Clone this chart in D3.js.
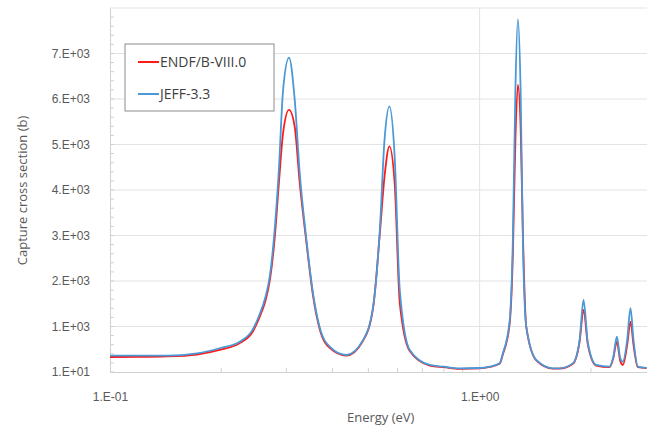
<!DOCTYPE html>
<html>
<head>
<meta charset="utf-8">
<script src="https://cdn.jsdelivr.net/npm/d3@7"></script>
<style>
  body { margin: 0; background: #fff; }
  svg { display: block; font-family: "Open Sans", "Noto Sans", sans-serif; }
</style>
</head>
<body>
<div id="chart"></div>
<script>
// energies (eV), shared by both curves
const energy = [0.100, 0.120, 0.143, 0.172, 0.198, 0.225, 0.243, 0.254, 0.263, 0.271, 0.279,
  0.286, 0.294, 0.305, 0.316, 0.326, 0.340, 0.354, 0.369, 0.393, 0.436,
  0.484, 0.515, 0.537, 0.553, 0.570, 0.589, 0.608, 0.647, 0.733, 0.800,
  0.883, 1.000, 1.064, 1.132, 1.156, 1.205, 1.230, 1.249, 1.269, 1.291,
  1.309, 1.337, 1.423, 1.578, 1.645, 1.788, 1.864, 1.910, 1.963, 2.067,
  2.246, 2.300, 2.351, 2.401, 2.440, 2.507, 2.559, 2.608, 2.679, 2.830]

const endf = [340, 342, 352, 395, 495, 650, 890, 1220, 1560, 2050, 2950,
  4100, 5270, 5770, 5400, 4170, 2850, 1700, 960, 540, 370,
  700, 1420, 3050, 4310, 4970, 4160, 1530, 470, 150, 115,
  80, 90, 120, 190, 400, 1050, 2600, 5050, 6327, 5380,
  3080, 1000, 265, 85, 85, 190, 680, 1375, 600, 150,
  115, 320, 677, 250, 164, 600, 1117, 600, 115, 95]

const jeff = [372, 370, 369, 420, 532, 680, 935, 1280, 1640, 2150, 3150,
  4390, 6217, 6920, 5997, 4390, 2915, 1750, 1000, 567, 384,
  715, 1447, 3136, 5117, 5850, 4750, 1815, 494, 164, 127,
  91, 98, 127, 200, 420, 1116, 2930, 6146, 7758, 6150,
  2936, 1007, 274, 91, 91, 200, 715, 1595, 641, 164,
  127, 347, 788, 311, 237, 715, 1412, 715, 127, 100]

const seriesNames = ['ENDF/B-VIII.0', 'JEFF-3.3']
const seriesColors = ['#ff1a1a', '#4a98d6']

const yTickValues = [10, 1010, 2010, 3010, 4010, 5010, 6010, 7010]
const yTickLabels = ['1.E+01', '1.E+03', '2.E+03', '3.E+03', '4.E+03', '5.E+03', '6.E+03', '7.E+03']
const xTickValues = [0.1, 1]
const xTickLabels = ['1.E-01', '1.E+00']
const xMinorTicks = [0.2, 0.3, 0.4, 0.5, 0.6, 0.7, 0.8, 0.9, 2, 3]

const margin = {top: 8, left: 110}
const width = 546
const height = 364

const svg = d3.select('#chart').append('svg')
  .attr('width', 647)
  .attr('height', 428)

const g = svg.append('g')
  .attr('transform', 'translate(' + margin.left + ',' + margin.top + ')')

const x = d3.scaleLog()
  .domain([0.1, 3])
  .range([0, width])

const y = d3.scaleLinear()
  .domain([10, 8010])
  .range([height, 0])

// gridlines
g.append('g')
  .selectAll('line')
  .data(yTickValues.slice(1).concat([8010]))
  .enter().append('line')
    .attr('x1', 0)
    .attr('x2', width)
    .attr('y1', d => y(d))
    .attr('y2', d => y(d))
    .attr('stroke', '#e3e3e3')

g.append('line')
  .attr('x1', x(1)).attr('x2', x(1))
  .attr('y1', 0).attr('y2', height)
  .attr('stroke', '#e3e3e3')

// minor ticks, inside the plot
const yMinor = d3.range(10, 8010, 200)
g.append('g')
  .selectAll('line')
  .data(yMinor)
  .enter().append('line')
    .attr('x1', 0).attr('x2', 4)
    .attr('y1', d => y(d)).attr('y2', d => y(d))
    .attr('stroke', '#d0d0d0')

g.append('g')
  .selectAll('line')
  .data(xMinorTicks)
  .enter().append('line')
    .attr('x1', d => x(d)).attr('x2', d => x(d))
    .attr('y1', height).attr('y2', height - 4)
    .attr('stroke', '#d0d0d0')

// y axis
const yAxis = g.append('g')
  .call(d3.axisLeft(y)
    .tickValues(yTickValues)
    .tickFormat((d, i) => yTickLabels[i])
    .tickSize(0)
    .tickPadding(20))
yAxis.select('.domain').attr('stroke', '#d0d0d0')
yAxis.selectAll('text')
  .attr('fill', '#595959')
  .style('font-size', '12px')

// x axis
const xAxis = g.append('g')
  .attr('transform', 'translate(0,' + height + ')')
  .call(d3.axisBottom(x)
    .tickValues(xTickValues)
    .tickFormat((d, i) => xTickLabels[i])
    .tickSize(0)
    .tickPadding(20))
xAxis.select('.domain').attr('stroke', '#d0d0d0')
xAxis.selectAll('text')
  .attr('fill', '#595959')
  .style('font-size', '12px')

// curves
const plot = g.append('g')

const lineData = [endf, jeff]
const line = d3.line()
  .x((d, i) => x(energy[i]))
  .y(d => y(d))
  .curve(d3.curveMonotoneX)

plot.selectAll('.series')
  .data(lineData)
  .enter().append('path')
    .attr('class', 'series')
    .attr('fill', 'none')
    .attr('stroke', (d, i) => seriesColors[i])
    .attr('stroke-width', 1.8)
    .attr('stroke-linejoin', 'round')
    .attr('d', line)

// axis titles
svg.append('text')
  .attr('x', margin.left + x(0.54))
  .attr('y', 422)
  .attr('text-anchor', 'middle')
  .attr('fill', '#595959')
  .style('font-size', '13px')
  .text('Energy (eV)')

svg.append('text')
  .attr('transform', 'translate(27,' + (margin.top + y(4000)) + ') rotate(-90)')
  .attr('text-anchor', 'middle')
  .attr('fill', '#595959')
  .style('font-size', '13px')
  .text('Capture cross section (b)')

// legend
const legend = svg.append('g')
  .attr('transform', 'translate(125,44)')

legend.append('rect')
  .attr('width', 149)
  .attr('height', 67)
  .attr('fill', '#fff')
  .attr('stroke', '#8c8c8c')

const item = legend.selectAll('.item')
  .data(seriesNames)
  .enter().append('g')
    .attr('class', 'item')
    .attr('transform', (d, i) => 'translate(13,' + (18 + i * 32) + ')')

item.append('line')
  .attr('x1', 0).attr('x2', 21)
  .attr('stroke', (d, i) => seriesColors[i])
  .attr('stroke-width', 2)

item.append('text')
  .attr('x', 22)
  .attr('dy', '0.35em')
  .attr('fill', '#404040')
  .style('font-size', '14px')
  .text(d => d)
</script>
</body>
</html>
